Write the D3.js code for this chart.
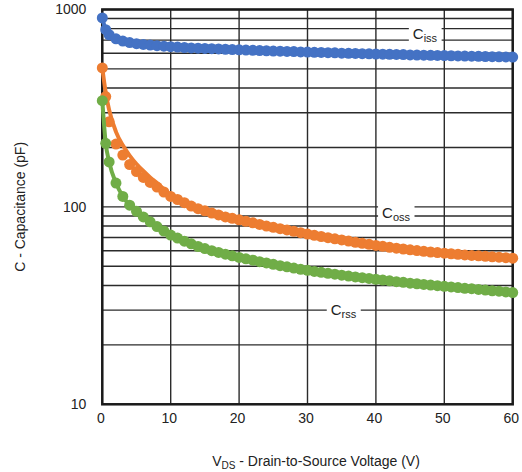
<!DOCTYPE html>
<html>
<head>
<meta charset="utf-8">
<script src="https://cdn.jsdelivr.net/npm/d3@7"></script>
<style>
  body { margin: 0; background: #fff; }
  svg { display: block; font-family: "Liberation Sans", Arial, sans-serif; }
</style>
</head>
<body>
<svg id="chart" width="522" height="472"></svg>
<script>
// drain-source voltage (V) where the points were measured
var volts = [0, 0.5, 1, 2, 3, 4, 5, 6, 7, 8, 9, 10, 11, 12, 13, 14, 15, 16, 17, 18, 19, 20,
  21, 22, 23, 24, 25, 26, 27, 28, 29, 30, 31, 32, 33, 34, 35, 36, 37, 38, 39, 40,
  41, 42, 43, 44, 45, 46, 47, 48, 49, 50, 51, 52, 53, 54, 55, 56, 57, 58, 59, 60]

// capacitances in pF
var ciss = [906, 790, 745, 710, 692, 680, 671, 665, 660, 656, 652, 648, 645, 642, 639, 637, 635, 633, 631, 629, 627, 625,
  623, 621, 619, 618, 616, 615, 613, 612, 610, 609, 607, 606, 604, 603, 601, 600, 599, 597, 596, 595,
  594, 593, 592, 591, 589, 588, 587, 586, 585, 584, 583, 582, 581, 580, 579, 578, 577, 576, 575, 574]
var coss = [506, 362, 270, 208, 183, 164, 151, 141, 133, 126, 119, 113, 109, 105, 101, 98, 95.5, 93, 91, 89, 87.5, 86,
  84.5, 83, 81.5, 80, 78.8, 77.6, 76.4, 75.2, 74, 72.8, 71.8, 70.8, 69.8, 68.9, 68, 67.1, 66.2, 65.4, 64.6, 63.8,
  63.1, 62.4, 61.8, 61.2, 60.6, 60.1, 59.6, 59.1, 58.7, 58.3, 57.9, 57.5, 57.1, 56.8, 56.5, 56.2, 55.9, 55.6, 55.3, 55]
var crss = [345, 210, 169, 132, 113, 102, 95, 89, 84, 79.5, 75.5, 72, 69.5, 67, 65, 63, 61.5, 60, 58.8, 57.6, 56.5, 55.5,
  54.6, 53.7, 52.8, 52, 51.2, 50.4, 49.7, 49, 48.3, 47.7, 47.1, 46.6, 46.1, 45.6, 45.1, 44.6, 44.2, 43.8, 43.4, 43,
  42.6, 42.2, 41.8, 41.5, 41.1, 40.8, 40.5, 40.2, 39.9, 39.6, 39.3, 39, 38.7, 38.5, 38.2, 37.9, 37.6, 37.4, 37.1, 36.8]

// Coss trend line sits a bit above the dots at low voltage
var cossLineV = [0, 0.5, 1, 2, 3, 4, 5, 6, 7, 8, 10, 12, 15, 20, 30, 40, 50, 60]
var cossLine = [506, 380, 310, 240, 205, 182, 165, 152, 141, 132, 115, 105, 95.5, 86, 72.8, 63.8, 58.3, 55]

var xTicks = [0, 10, 20, 30, 40, 50, 60]
var yTicks = [10, 100, 1000]

var width = 522
var height = 472
// plot box (note: "top" is taken by window.top, so use p* names)
var pLeft = 102.3, pRight = 512.7, pTop = 9.5, pBottom = 404.3

var svg = d3.select("#chart")

var x = d3.scaleLinear().domain([0, 60]).range([pLeft, pRight])
var y = d3.scaleLog().domain([10, 1000]).range([pBottom, pTop])

// grid
var grid = svg.append("g").attr("stroke", "#2b2b2b").attr("stroke-width", 1.4)
grid.selectAll("line.h")
  .data(y.ticks())
  .join("line")
  .attr("class", "h")
  .attr("x1", pLeft).attr("x2", pRight)
  .attr("y1", d => y(d)).attr("y2", d => y(d))
grid.selectAll("line.v")
  .data(xTicks)
  .join("line")
  .attr("class", "v")
  .attr("x1", d => x(d)).attr("x2", d => x(d))
  .attr("y1", pTop).attr("y2", pBottom)

// frame
svg.append("rect")
  .attr("x", pLeft).attr("y", pTop)
  .attr("width", pRight - pLeft).attr("height", pBottom - pTop)
  .attr("fill", "none").attr("stroke", "#1a1a1a").attr("stroke-width", 2.5)

// curve labels with white boxes that break the grid
var labels = [
  {main: "C", sub: "iss", v: 45.4, c: 709},
  {main: "C", sub: "oss", v: 40.9, c: 88},
  {main: "C", sub: "rss", v: 33.4, c: 28.5}
]
labels.forEach(l => {
  var g = svg.append("g").attr("transform", `translate(${x(l.v)},${y(l.c)})`)
  var t = g.append("text").attr("font-size", 15).attr("fill", "#222")
  t.append("tspan").text(l.main)
  t.append("tspan").attr("font-size", 11).attr("dy", 3).text(l.sub)
  var b = t.node().getBBox()
  g.insert("rect", "text")
    .attr("x", b.x - 4).attr("y", b.y - 1)
    .attr("width", b.width + 8).attr("height", b.height + 2)
    .attr("fill", "#fff")
})

var series = [
  {vals: ciss, color: "#4472c4", lv: volts, lc: ciss},
  {vals: coss, color: "#ed7d31", lv: cossLineV, lc: cossLine},
  {vals: crss, color: "#70ad47", lv: volts, lc: crss}
]

var line = d3.line()
  .x(d => x(d[0]))
  .y(d => y(d[1]))
  .curve(d3.curveMonotoneX)

series.forEach(s => {
  svg.append("path")
    .datum(s.lv.map((v, i) => [v, s.lc[i]]))
    .attr("d", line)
    .attr("fill", "none")
    .attr("stroke", s.color)
    .attr("stroke-width", 4)

  svg.append("g")
    .selectAll("circle")
    .data(volts.map((v, i) => [v, s.vals[i]]))
    .join("circle")
    .attr("cx", d => x(d[0]))
    .attr("cy", d => y(d[1]))
    .attr("r", 5.5)
    .attr("fill", s.color)
})

// axes (labels only)
var xAxis = svg.append("g")
  .attr("transform", `translate(-2,${pBottom + 6})`)
  .call(d3.axisBottom(x).tickValues(xTicks).tickSize(0).tickFormat(d3.format("d")))
xAxis.select(".domain").remove()
xAxis.selectAll("text").attr("font-size", 14).attr("fill", "#222").attr("font-family", "Liberation Sans, Arial, sans-serif")

var yAxis = svg.append("g")
  .attr("transform", `translate(${pLeft - 13},0)`)
  .call(d3.axisLeft(y).tickValues(yTicks).tickSize(0).tickFormat(d3.format("d")))
yAxis.select(".domain").remove()
yAxis.selectAll("text").attr("font-size", 14).attr("fill", "#222").attr("font-family", "Liberation Sans, Arial, sans-serif")

// axis titles
var xt = svg.append("text")
  .attr("x", 316).attr("y", 466)
  .attr("text-anchor", "middle")
  .attr("font-size", 14).attr("fill", "#222")
xt.append("tspan").text("V")
xt.append("tspan").attr("font-size", 10).attr("dy", 3).text("DS")
xt.append("tspan").attr("dy", -3).text(" - Drain-to-Source Voltage (V)")

svg.append("text")
  .attr("transform", `translate(25,${(pTop + pBottom) / 2}) rotate(-90)`)
  .attr("text-anchor", "middle")
  .attr("font-size", 14).attr("fill", "#222")
  .text("C - Capacitance (pF)")
</script>
</body>
</html>
